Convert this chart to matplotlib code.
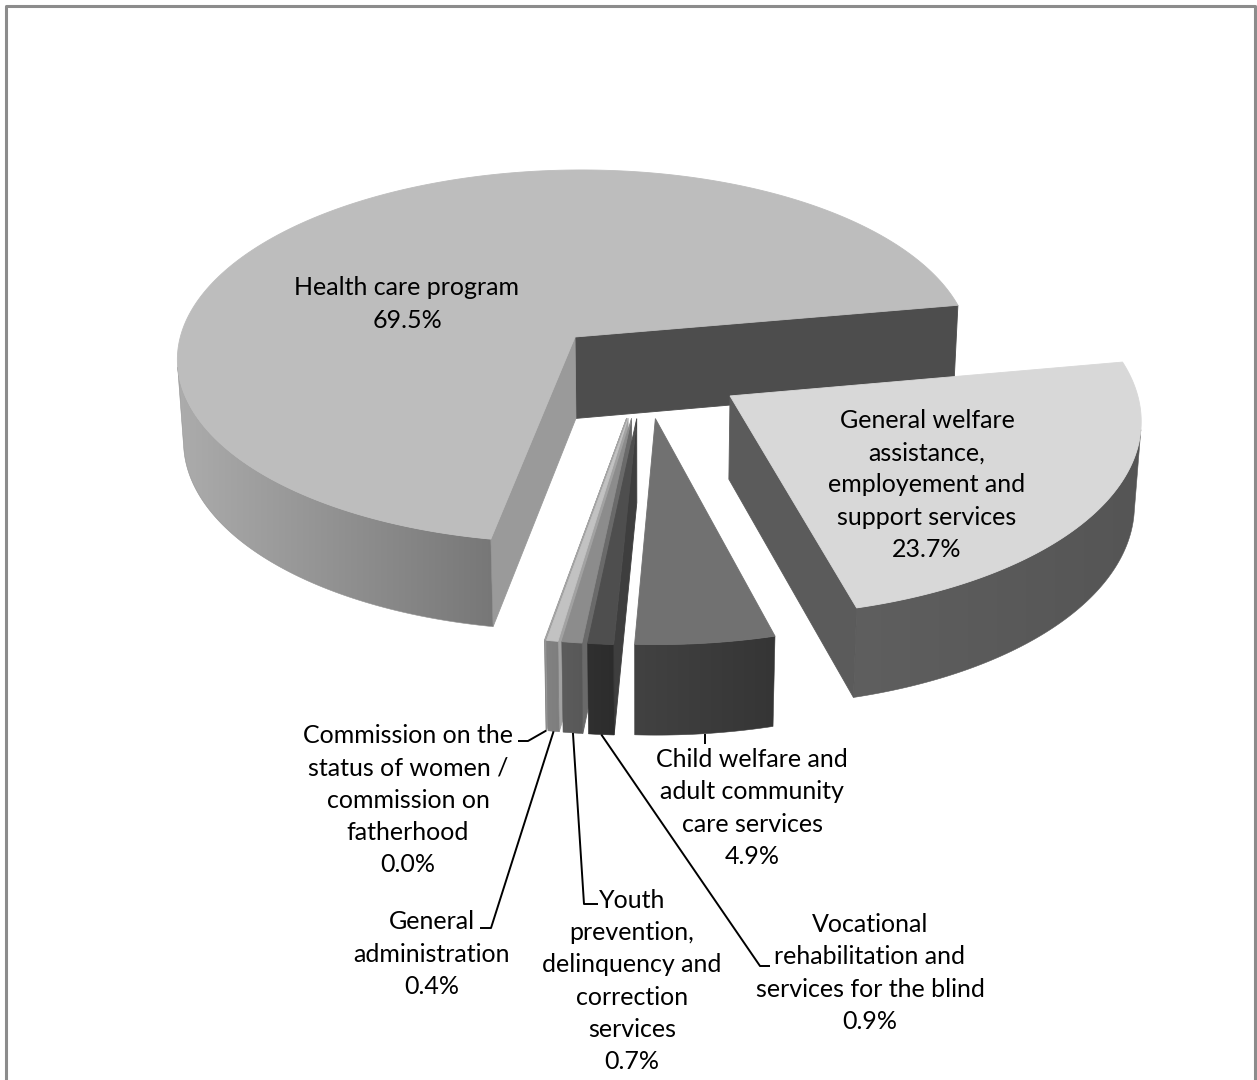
import numpy as np
import matplotlib
matplotlib.use("Agg")
import matplotlib.pyplot as plt
from matplotlib.patches import Polygon

# ---------------- data ----------------
categories = [
    "Health care program",
    "General welfare\nassistance,\nemployement and\nsupport services",
    "Child welfare and\nadult community\ncare services",
    "Vocational\nrehabilitation and\nservices for the blind",
    "Youth\nprevention,\ndelinquency and\ncorrection\nservices",
    "General\nadministration",
    "Commission on the\nstatus of women /\ncommission on\nfatherhood",
]
shares = [69.5, 23.7, 4.9, 0.9, 0.7, 0.4, 0.02]

# ---------------- style ----------------
top_colors = ["#bdbdbd", "#d8d8d8", "#717171", "#4e4e4e", "#8c8c8c", "#c2c2c2", "#a4a4a4"]
wall_left = ["#acacac", "#5f5f5f", "#424242", "#303030", "#5c5c5c", "#828282", "#8a8a8a"]
wall_right = ["#777777", "#555555", "#353535", "#2c2c2c", "#585858", "#7e7e7e", "#888888"]
side_lo = ["#4d4d4d", "#5b5b5b", "#3a3a3a", "#3e3e3e", "#6a6a6a", "#a2a2a2", "#9a9a9a"]
side_hi = ["#9a9a9a", "#5b5b5b", "#3a3a3a", "#3e3e3e", "#6a6a6a", "#a2a2a2", "#9a9a9a"]

W, H = 1257, 1080
fig = plt.figure(figsize=(W / 100, H / 100), dpi=100)
ax = fig.add_axes([0, 0, 1, 1])
ax.set_xlim(0, W)
ax.set_ylim(H, 0)
ax.axis("off")

FONT = ["Lato", "DejaVu Sans"]

# geometry of the 3-D pie
R = 402.0          # radius
HGT = 95.0         # thickness
PHI = np.radians(28.4)
DIST = 3358.0
EXPL = 100.0
CX, CY = 644.5, 370.0
START = 260.0      # degrees, slices go clockwise

cam = np.array([0.0, -DIST * np.cos(PHI), DIST * np.sin(PHI)])
fwd = np.array([0.0, np.cos(PHI), -np.sin(PHI)])
upv = np.array([0.0, np.sin(PHI), np.cos(PHI)])

zc = [1]


def nz():
    zc[0] += 1
    return zc[0]


def proj(p):
    p = np.atleast_2d(p)
    v = p - cam
    d = v @ fwd
    sx = v[:, 0] / d * DIST
    sy = (v @ upv) / d * DIST
    return np.column_stack([CX + sx, CY - sy]), d


def visible(normal, point):
    return np.dot(normal, cam - point) > 0


total = sum(shares)
spans = []
a0 = START
for v in shares:
    a1 = a0 - v / total * 360.0
    spans.append((a1, a0))
    a0 = a1


def slice_geom(i):
    lo, hi = spans[i]
    mid = np.radians((lo + hi) / 2)
    c = np.array([EXPL * np.cos(mid), EXPL * np.sin(mid), 0.0])
    return lo, hi, mid, c


def grad_fill(poly_xy, c_left, c_right):
    patch = Polygon(poly_xy, closed=True, facecolor="none", edgecolor="none")
    ax.add_patch(patch)
    x0, x1 = poly_xy[:, 0].min(), poly_xy[:, 0].max()
    y0, y1 = poly_xy[:, 1].min(), poly_xy[:, 1].max()
    a = np.array(matplotlib.colors.to_rgb(c_left))
    b = np.array(matplotlib.colors.to_rgb(c_right))
    t = np.linspace(0, 1, 256)[None, :, None]
    img = a[None, None, :] + (b - a)[None, None, :] * t
    img = np.repeat(img, 2, axis=0)
    im = ax.imshow(img, extent=[x0 - 1, x1 + 1, y1 + 1, y0 - 1], aspect="auto",
                   interpolation="bilinear", zorder=nz())
    im.set_clip_path(patch)
    ax.add_patch(Polygon(poly_xy, closed=True, facecolor="none",
                         edgecolor=matplotlib.colors.to_hex((a + b) / 2), lw=0.4, zorder=nz()))


def draw_slice(i):
    lo, hi, mid, c = slice_geom(i)
    n = max(int((hi - lo) / 0.25), 2)
    th = np.radians(np.linspace(lo, hi, n + 1))
    rim_top = np.column_stack([c[0] + R * np.cos(th), c[1] + R * np.sin(th), np.zeros_like(th)])
    rim_bot = rim_top.copy()
    rim_bot[:, 2] = -HGT
    ctop = c.copy()
    cbot = c.copy(); cbot[2] = -HGT
    # radial faces
    for ang, col, sgn in ((lo, side_lo[i], -1), (hi, side_hi[i], 1)):
        a = np.radians(ang)
        nrm = np.array([-np.sin(a), np.cos(a), 0.0]) * sgn
        pt = c + np.array([R * np.cos(a) / 2, R * np.sin(a) / 2, -HGT / 2])
        if visible(nrm, pt):
            pe = c + np.array([R * np.cos(a), R * np.sin(a), 0.0])
            pts = np.array([ctop, pe, pe - [0, 0, HGT], cbot])
            s, _ = proj(pts)
            ax.add_patch(Polygon(s, closed=True, facecolor=col, edgecolor=col, lw=0.6, zorder=nz()))
    # outer wall (visible part)
    vis = []
    for k in range(n + 1):
        nrm = np.array([np.cos(th[k]), np.sin(th[k]), 0.0])
        vis.append(visible(nrm, rim_top[k] - [0, 0, HGT / 2]))
    idx = [k for k in range(n + 1) if vis[k]]
    if len(idx) >= 2:
        pts = np.vstack([rim_top[idx], rim_bot[idx][::-1]])
        s, _ = proj(pts)
        grad_fill(s, wall_left[i], wall_right[i])
    # top face
    top = np.vstack([ctop, rim_top])
    s, _ = proj(top)
    ax.add_patch(Polygon(s, closed=True, facecolor=top_colors[i], edgecolor=top_colors[i],
                         lw=0.6, zorder=nz()))


def front_distance(i):
    lo, hi, mid, c = slice_geom(i)
    return abs(((np.degrees(mid) + 90) + 180) % 360 - 180)


order = sorted(range(len(shares)), key=lambda i: -front_distance(i))
for i in order:
    draw_slice(i)

# ---------------- labels ----------------
def lab(i):
    return f"{categories[i]}\n{shares[i]:.1f}%"

FS = 18
LS = 1.48
label_pos = {0: (407, 304), 1: (927, 485), 2: (752, 808), 3: (870, 973),
             4: (632, 981), 5: (432, 954), 6: (408, 800)}
for i, (x, y) in label_pos.items():
    ax.text(x, y, lab(i), ha="center", va="center", fontsize=FS, family=FONT,
            linespacing=LS, color="black", zorder=nz())


def rim_point(i):
    lo, hi, mid, c = slice_geom(i)
    p = c + np.array([R * np.cos(mid), R * np.sin(mid), -HGT])
    s, _ = proj(p)
    return s[0]


elbows = {
    6: [(528, 741), (518, 741)],
    5: [(491, 928), (480, 928)],
    4: [(584, 904), (598, 904)],
    3: [(760, 966), (770, 966)],
    2: [(None, 744)],
}
for i, pts in elbows.items():
    st = rim_point(i)
    xs = [st[0]]
    ys = [st[1]]
    for (x, y) in pts:
        xs.append(st[0] if x is None else x)
        ys.append(y)
    ax.plot(xs, ys, color="black", lw=1.4, solid_capstyle="butt", zorder=nz())

# chart border
ax.plot([6, 6, 1255, 1255], [1090, 6, 6, 1090], color="#8c8c8c", lw=2.2, zorder=nz())

fig.savefig("out.png", dpi=100)
